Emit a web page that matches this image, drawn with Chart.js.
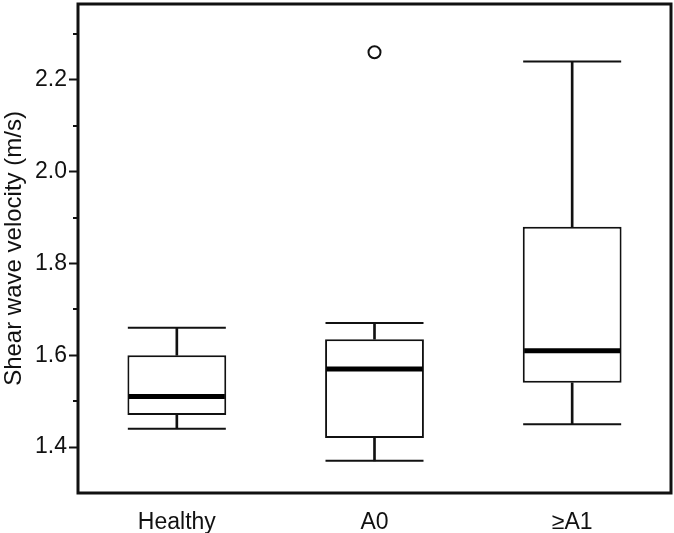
<!DOCTYPE html>
<html>
<head>
<meta charset="utf-8">
<script src="https://cdn.jsdelivr.net/npm/chart.js@4"></script>
<style>
  html, body { margin: 0; padding: 0; background: #fff; overflow: hidden; }
  canvas { display: block; }
</style>
</head>
<body>
<canvas id="velocidade" width="674" height="533"></canvas>
<script>
const categorias = ['Healthy', 'A0', '\u2265A1'];
const minimo = [1.44, 1.37, 1.45];
const q1 = [1.47, 1.42, 1.54];
const mediana = [1.51, 1.57, 1.61];
const q3 = [1.60, 1.635, 1.88];
const maximo = [1.66, 1.67, 2.24];
const outliers = [null, 2.26, null];
const ticksMaiores = [1.4, 1.6, 1.8, 2.0, 2.2];
const ticksMenores = [1.5, 1.7, 1.9, 2.1, 2.3];

const fonte = { family: 'Liberation Sans, Arial, sans-serif', size: 23 };

// moldura e ticks menores do eixo y
const moldura = {
  id: 'moldura',
  afterDraw(chart) {
    const ctx = chart.ctx;
    const a = chart.chartArea;
    const y = chart.scales.y;
    ctx.save();
    ctx.strokeStyle = '#111';
    ctx.lineWidth = 2;
    ctx.beginPath();
    ticksMenores.forEach(v => {
      const py = Math.round(y.getPixelForValue(v));
      ctx.moveTo(a.left - 5, py);
      ctx.lineTo(a.left, py);
    });
    ctx.stroke();
    ctx.lineWidth = 3;
    ctx.strokeRect(a.left, a.top, a.right - a.left, a.bottom - a.top);
    ctx.restore();
  }
};

const el = document.getElementById('velocidade');
new Chart(el, {
  type: 'bar',
  data: {
    labels: categorias,
    datasets: [
      {
        type: 'bar',
        data: q3.map((v, i) => [v, maximo[i]]),
        backgroundColor: '#111',
        borderWidth: 0,
        barThickness: 2,
        grouped: false,
        order: 6
      },
      {
        type: 'bar',
        data: q1.map((v, i) => [minimo[i], v]),
        backgroundColor: '#111',
        borderWidth: 0,
        barThickness: 2,
        grouped: false,
        order: 6
      },
      {
        type: 'bar',
        data: q1.map((v, i) => [v, q3[i]]),
        backgroundColor: '#fff',
        borderColor: '#111',
        borderWidth: 2,
        borderSkipped: false,
        barPercentage: 0.5,
        categoryPercentage: 1,
        grouped: false,
        order: 5
      },
      {
        type: 'line',
        data: maximo,
        showLine: false,
        pointStyle: 'line',
        pointRadius: 49,
        pointBorderWidth: 2,
        pointBorderColor: '#111',
        order: 3
      },
      {
        type: 'line',
        data: minimo,
        showLine: false,
        pointStyle: 'line',
        pointRadius: 49,
        pointBorderWidth: 2,
        pointBorderColor: '#111',
        order: 3
      },
      {
        type: 'line',
        data: mediana,
        showLine: false,
        pointStyle: 'line',
        pointRadius: 48,
        pointBorderWidth: 5,
        pointBorderColor: '#000',
        order: 2
      },
      {
        type: 'line',
        data: outliers,
        showLine: false,
        pointStyle: 'circle',
        pointRadius: 6,
        pointBorderWidth: 2,
        pointBorderColor: '#111',
        pointBackgroundColor: '#fff',
        order: 1
      }
    ]
  },
  options: {
    responsive: false,
    animation: false,
    events: [],
    layout: { autoPadding: false, padding: { top: 4, right: 3, left: 0, bottom: 0 } },
    plugins: {
      legend: { display: false },
      tooltip: { enabled: false }
    },
    scales: {
      x: {
        offset: true,
        grid: { display: false },
        border: { display: false },
        ticks: { color: '#111', font: fonte, padding: 8 },
        afterFit(s) { s.height = 40; s.paddingLeft = 0; s.paddingRight = 0; }
      },
      y: {
        min: 1.3,
        max: 2.365,
        afterBuildTicks(s) { s.ticks = ticksMaiores.map(v => ({ value: v })); },
        grid: {
          drawOnChartArea: false,
          drawTicks: true,
          tickLength: 9,
          tickWidth: 2,
          tickColor: '#111'
        },
        border: { display: false },
        ticks: {
          color: '#111',
          font: fonte,
          padding: 2,
          callback: v => v.toFixed(1)
        },
        title: {
          display: true,
          text: 'Shear wave velocity (m/s)',
          color: '#111',
          font: { family: fonte.family, size: 24 },
          padding: { top: 0, bottom: 2 }
        },
        afterFit(s) { s.width = 78; s.paddingTop = 0; s.paddingBottom = 0; }
      }
    }
  },
  plugins: [moldura]
});
</script>
</body>
</html>
